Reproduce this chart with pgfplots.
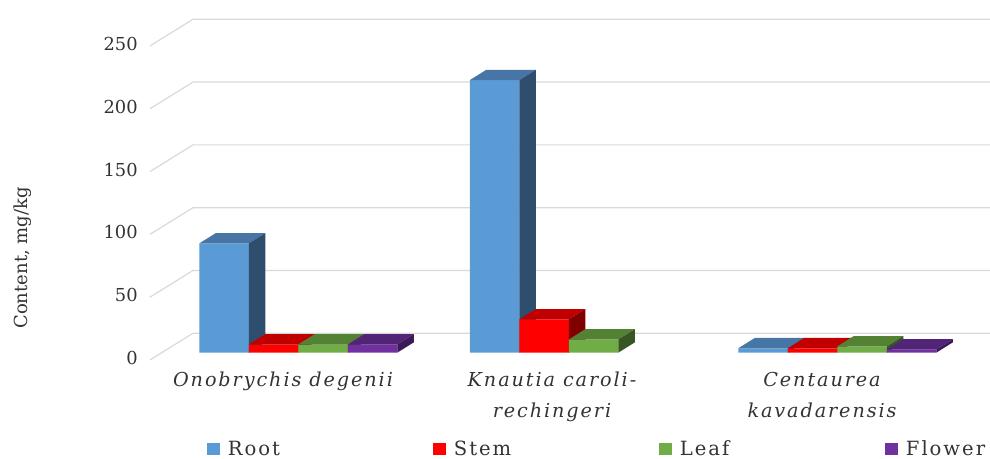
\documentclass[border=0pt]{standalone}
\usepackage{fontspec}
\setmainfont{DejaVu Serif}
\newfontfamily\labelfont{DejaVu Serif}[LetterSpace=10]
\usepackage{pgfplots}
\pgfplotsset{compat=1.18}
\definecolor{rootF}{HTML}{5B9BD5}\definecolor{rootT}{HTML}{4775A6}\definecolor{rootS}{HTML}{2F4E6E}
\definecolor{stemF}{HTML}{FF0000}\definecolor{stemT}{HTML}{C00000}\definecolor{stemS}{HTML}{800000}
\definecolor{leafF}{HTML}{70AD47}\definecolor{leafT}{HTML}{548235}\definecolor{leafS}{HTML}{375623}
\definecolor{flowF}{HTML}{7030A0}\definecolor{flowT}{HTML}{522478}\definecolor{flowS}{HTML}{3B1A57}
\definecolor{gridc}{HTML}{D9D9D9}
\begin{document}
\begin{tikzpicture}
\begin{axis}[
  x=0.75pt, y=0.942pt,
  xmin=0, xmax=990, ymin=-84.63, ymax=280.8,
  enlargelimits=false, clip=false,
  axis line style={draw=none}, tick style={draw=none},
  unbounded coords=jump,
  xtick={283,552,822},
  xticklabels={{Onobrychis degenii},{Knautia caroli-\\rechingeri},{Centaurea\\kavadarensis}},
  xticklabel style={anchor=north, inner sep=0pt, yshift=65.25pt, align=center,
     font=\labelfont\itshape\fontsize{14.4}{23.25}\selectfont, text=black!80},
  ytick={-4.2,45.8,95.8,145.8,195.8,245.8},
  yticklabels={0,50,100,150,200,250},
  yticklabel style={anchor=east, inner sep=0pt, xshift=103.5pt,
     font=\fontsize{13.4}{16}\selectfont, text=black!80},
  ylabel={Content, mg/kg},
  every axis y label/.style={at={(rel axis cs:0.0232,0.438)}, rotate=90, anchor=center,
     font=\fontsize{13.5}{16}\selectfont, text=black!80},
  legend columns=4,
  legend style={at={(rel axis cs:0.2091,0.0218)}, anchor=west, draw=none, fill=none,
     inner sep=0pt, column sep=0pt, row sep=0pt,
     nodes={inner sep=0pt, anchor=west, font=\labelfont\fontsize{14.7}{17}\selectfont, text=black!80}},
  legend image code/.code={\fill[#1] (0pt,-4.7pt) rectangle (9.4pt,4.7pt); \path (15.5pt,0pt);},
]
% background grid: back wall lines and diagonal floor/wall edges
\addplot[gridc, line width=0.9pt, forget plot] coordinates {
 (150,-5.8) (193,15.45) (990,15.45) (0,nan)
 (150,44.2) (193,65.45) (990,65.45) (0,nan)
 (150,94.2) (193,115.45) (990,115.45) (0,nan)
 (150,144.2) (193,165.45) (990,165.45) (0,nan)
 (150,194.2) (193,215.45) (990,215.45) (0,nan)
 (150,244.2) (193,265.45) (990,265.45)
};
% ---------- Root ----------
\addplot[ybar, bar width=49.5, bar shift=0, fill=rootF, draw=none] coordinates {(224,87) (494.5,217) (763,3.5)};
\addlegendentry{\makebox[154pt][l]{Root}}
\addplot[fill=rootT, draw=none, forget plot] coordinates {
 (199.25,87)(248.75,87)(265.25,95.2)(215.75,95.2) (0,nan)
 (469.75,217)(519.25,217)(535.75,225.2)(486.25,225.2) (0,nan)
 (738.25,3.5)(787.75,3.5)(804.25,11.7)(754.75,11.7)};
\addplot[fill=rootS, draw=none, forget plot] coordinates {
 (248.75,0)(265.25,8.2)(265.25,95.2)(248.75,87) (0,nan)
 (519.25,0)(535.75,8.2)(535.75,225.2)(519.25,217) (0,nan)
 (787.75,0)(804.25,8.2)(804.25,11.7)(787.75,3.5)};
% ---------- Stem ----------
\addplot[ybar, bar width=49.5, bar shift=0, fill=stemF, draw=none] coordinates {(273.5,6.5) (544,26.5) (812.5,3.5)};
\addlegendentry{\makebox[154pt][l]{Stem}}
\addplot[fill=stemT, draw=none, forget plot] coordinates {
 (248.75,6.5)(298.25,6.5)(314.75,14.7)(265.25,14.7) (0,nan)
 (519.25,26.5)(568.75,26.5)(585.25,34.7)(535.75,34.7) (0,nan)
 (787.75,3.5)(837.25,3.5)(853.75,11.7)(804.25,11.7)};
\addplot[fill=stemS, draw=none, forget plot] coordinates {
 (298.25,0)(314.75,8.2)(314.75,14.7)(298.25,6.5) (0,nan)
 (568.75,0)(585.25,8.2)(585.25,34.7)(568.75,26.5) (0,nan)
 (837.25,0)(853.75,8.2)(853.75,11.7)(837.25,3.5)};
% ---------- Leaf ----------
\addplot[ybar, bar width=49.5, bar shift=0, fill=leafF, draw=none] coordinates {(323,6.5) (593.5,10.5) (862,5)};
\addlegendentry{\makebox[154pt][l]{Leaf}}
\addplot[fill=leafT, draw=none, forget plot] coordinates {
 (298.25,6.5)(347.75,6.5)(364.25,14.7)(314.75,14.7) (0,nan)
 (568.75,10.5)(618.25,10.5)(634.75,18.7)(585.25,18.7) (0,nan)
 (837.25,5)(886.75,5)(903.25,13.2)(853.75,13.2)};
\addplot[fill=leafS, draw=none, forget plot] coordinates {
 (347.75,0)(364.25,8.2)(364.25,14.7)(347.75,6.5) (0,nan)
 (618.25,0)(634.75,8.2)(634.75,18.7)(618.25,10.5) (0,nan)
 (886.75,0)(903.25,8.2)(903.25,13.2)(886.75,5)};
% ---------- Flower ----------
\addplot[ybar, bar width=49.5, bar shift=0, fill=flowF, draw=none] coordinates {(372.5,6.5) (911.5,2.5)};
\addlegendentry{Flower}
\addplot[fill=flowT, draw=none, forget plot] coordinates {
 (347.75,6.5)(397.25,6.5)(413.75,14.7)(364.25,14.7) (0,nan)
 (886.75,2.5)(936.25,2.5)(952.75,10.7)(903.25,10.7)};
\addplot[fill=flowS, draw=none, forget plot] coordinates {
 (397.25,0)(413.75,8.2)(413.75,14.7)(397.25,6.5) (0,nan)
 (936.25,0)(952.75,8.2)(952.75,10.7)(936.25,2.5)};
\end{axis}
\pgfresetboundingbox
\path[use as bounding box] (current axis.south west) rectangle (current axis.north east);
\end{tikzpicture}
\end{document}
